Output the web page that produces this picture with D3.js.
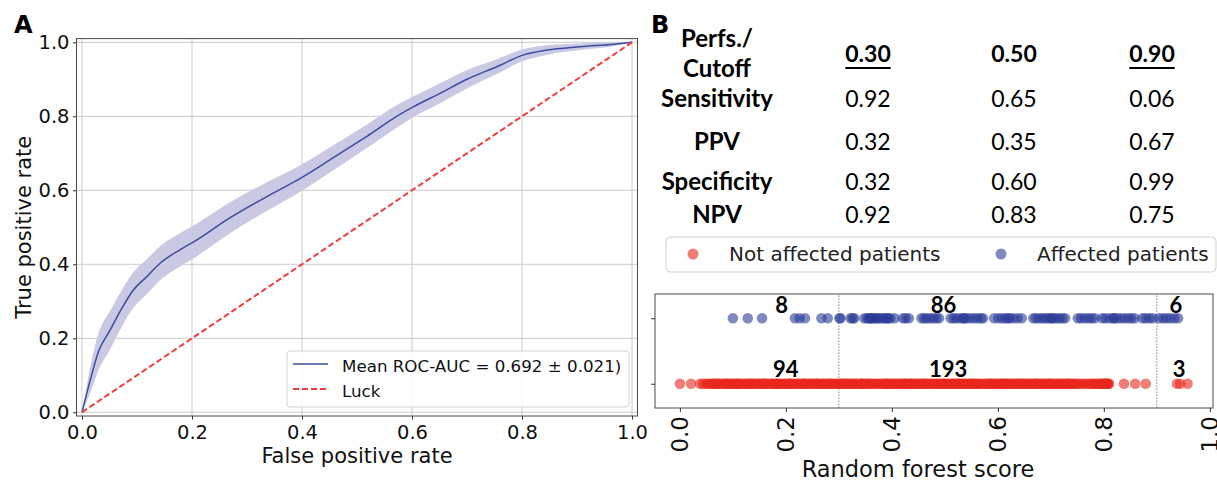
<!DOCTYPE html>
<html>
<head>
<meta charset="utf-8">
<script src="https://cdn.jsdelivr.net/npm/d3@7"></script>
<style>
  body { margin: 0; background: #fff; }
  svg { display: block; }
</style>
</head>
<body>
<script>
// ---- panel A: mean ROC curve ----
const fpr = [0, 0.015, 0.03, 0.051, 0.069, 0.093, 0.118, 0.142, 0.178, 0.209, 0.263, 0.336, 0.397, 0.457, 0.518, 0.578, 0.603, 0.651, 0.70, 0.754, 0.803, 0.845, 0.906, 0.967, 1.0]
const tprMean = [0, 0.087, 0.164, 0.222, 0.272, 0.33, 0.367, 0.403, 0.439, 0.466, 0.52, 0.583, 0.632, 0.688, 0.746, 0.805, 0.826, 0.862, 0.90, 0.934, 0.966, 0.979, 0.988, 0.995, 1.0]
const tprStd = [0, 0.035, 0.05, 0.052, 0.05, 0.048, 0.047, 0.046, 0.045, 0.044, 0.042, 0.039, 0.036, 0.034, 0.032, 0.03, 0.028, 0.027, 0.025, 0.02, 0.016, 0.013, 0.009, 0.006, 0]
const luckX = [0, 1]
const luckY = [0, 1]
const rocTicks = [0, 0.2, 0.4, 0.6, 0.8, 1.0]
const legendA = ["Mean ROC-AUC = 0.692 \u00b1 0.021)", "Luck"]

// ---- panel B: table ----
const cutoffs = ["0.30", "0.50", "0.90"]
const underlined = [true, false, true]
const rowLabels = ["Sensitivity", "PPV", "Specificity", "NPV"]
const sensitivity = ["0.92", "0.65", "0.06"]
const ppv = ["0.32", "0.35", "0.67"]
const specificity = ["0.32", "0.60", "0.99"]
const npv = ["0.92", "0.83", "0.75"]

// ---- panel B: strip plot of scores ----
const groups = ["Not affected patients", "Affected patients"]
const affectedScores = [
  0.100, 0.128, 0.155, 0.217, 0.226, 0.236, 0.267, 0.279,
  0.301, 0.303, 0.322, 0.326, 0.329, 0.348, 0.353, 0.357, 0.361, 0.364,
  0.368, 0.372, 0.375, 0.379, 0.384, 0.388, 0.393, 0.397, 0.405, 0.421,
  0.426, 0.432, 0.456, 0.461, 0.466, 0.472, 0.478, 0.484, 0.489, 0.511,
  0.517, 0.522, 0.529, 0.536, 0.541, 0.548, 0.555, 0.561, 0.568, 0.572,
  0.593, 0.601, 0.608, 0.614, 0.622, 0.629, 0.637, 0.645, 0.667, 0.672,
  0.678, 0.684, 0.689, 0.694, 0.699, 0.705, 0.711, 0.716, 0.722, 0.727,
  0.751, 0.757, 0.764, 0.771, 0.777, 0.783, 0.797, 0.803, 0.811, 0.818,
  0.825, 0.832, 0.839, 0.846, 0.852, 0.858, 0.873, 0.879, 0.886, 0.892,
  0.359, 0.391, 0.535, 0.619, 0.702, 0.819,
  0.904, 0.912, 0.918, 0.925, 0.933, 0.940
]
const notAffectedScores = [
  0.000, 0.021, 0.038, 0.043, 0.049, 0.052, 0.056, 0.060, 0.063, 0.067,
  0.070, 0.073, 0.075, 0.079, 0.083, 0.086, 0.088, 0.092, 0.095, 0.097,
  0.101, 0.104, 0.108, 0.111, 0.113, 0.117, 0.120, 0.124, 0.126, 0.129,
  0.133, 0.136, 0.139, 0.141, 0.145, 0.149, 0.151, 0.154, 0.158, 0.161,
  0.163, 0.167, 0.171, 0.173, 0.176, 0.180, 0.183, 0.185, 0.189, 0.192,
  0.196, 0.198, 0.201, 0.205, 0.208, 0.210, 0.214, 0.217, 0.221, 0.223,
  0.226, 0.230, 0.233, 0.236, 0.238, 0.242, 0.245, 0.248, 0.251, 0.255,
  0.258, 0.260, 0.264, 0.267, 0.270, 0.273, 0.276, 0.279, 0.283, 0.286,
  0.288, 0.292, 0.295, 0.298, 0.107, 0.132, 0.157, 0.182, 0.207, 0.232,
  0.257, 0.282, 0.064, 0.089,
  0.301, 0.304, 0.306, 0.309, 0.313, 0.315, 0.318, 0.321, 0.324, 0.327,
  0.330, 0.332, 0.335, 0.339, 0.342, 0.344, 0.347, 0.351, 0.354, 0.356,
  0.359, 0.362, 0.366, 0.369, 0.377, 0.380, 0.383, 0.386, 0.389, 0.392,
  0.395, 0.398, 0.401, 0.404, 0.407, 0.410, 0.413, 0.416, 0.419, 0.422,
  0.425, 0.428, 0.430, 0.433, 0.436, 0.439, 0.442, 0.445, 0.448, 0.451,
  0.454, 0.457, 0.459, 0.462, 0.465, 0.468, 0.471, 0.474, 0.477, 0.480,
  0.483, 0.486, 0.488, 0.491, 0.494, 0.497, 0.500, 0.503, 0.506, 0.509,
  0.512, 0.515, 0.517, 0.520, 0.523, 0.526, 0.529, 0.532, 0.535, 0.538,
  0.541, 0.544, 0.546, 0.549, 0.552, 0.555, 0.558, 0.561, 0.564, 0.567,
  0.572, 0.575, 0.578, 0.581, 0.584, 0.587, 0.590, 0.593, 0.596, 0.599,
  0.602, 0.605, 0.607, 0.610, 0.613, 0.616, 0.619, 0.622, 0.625, 0.628,
  0.631, 0.634, 0.636, 0.639, 0.642, 0.645, 0.648, 0.651, 0.654, 0.657,
  0.660, 0.663, 0.665, 0.668, 0.671, 0.674, 0.677, 0.680, 0.683, 0.686,
  0.689, 0.692, 0.694, 0.697, 0.700, 0.703, 0.706, 0.709, 0.712, 0.715,
  0.718, 0.721, 0.723, 0.726, 0.729, 0.732, 0.735, 0.738, 0.741, 0.744,
  0.747, 0.750, 0.754, 0.758, 0.763, 0.767, 0.772, 0.776, 0.781, 0.785,
  0.788, 0.791, 0.794, 0.797, 0.799, 0.802, 0.804, 0.806, 0.808, 0.810,
  0.838, 0.859, 0.879, 0.312, 0.343, 0.391, 0.437, 0.463, 0.498, 0.527,
  0.553, 0.588, 0.611, 0.646, 0.672, 0.698, 0.733, 0.779, 0.801, 0.807,
  0.372, 0.424, 0.617,
  0.938, 0.944, 0.958
]
const stripCutoffs = [0.3, 0.9]
const affectedCounts = ["8", "86", "6"]
const notAffectedCounts = ["94", "193", "3"]
const countLabelX = [0.192, 0.4975, 0.936]
const countLabelX2 = [0.2, 0.506, 0.942]
const stripTicks = [0, 0.2, 0.4, 0.6, 0.8, 1.0]

const mpl = "DejaVu Sans, sans-serif"
const cal = "Lato, Carlito, sans-serif"
const blue = "#3d4b9e"
const red = "#f03c3c"

const svg = d3.select("body").append("svg").attr("width", 1217).attr("height", 481)
svg.append("rect").attr("width", 1217).attr("height", 481).attr("fill", "#fff")

// ================= panel A =================
const xA = d3.scaleLinear().domain([-0.01, 1.01]).range([76.5, 637.5])
const yA = d3.scaleLinear().domain([-0.01, 1.01]).range([416, 38.6])

const gA = svg.append("g")
gA.selectAll(".gx").data(rocTicks).join("line")
  .attr("x1", d => xA(d)).attr("x2", d => xA(d))
  .attr("y1", yA.range()[0]).attr("y2", yA.range()[1])
  .attr("stroke", "#cbcbcb").attr("stroke-width", 1)
gA.selectAll(".gy").data(rocTicks).join("line")
  .attr("y1", d => yA(d)).attr("y2", d => yA(d))
  .attr("x1", xA.range()[0]).attr("x2", xA.range()[1])
  .attr("stroke", "#cbcbcb").attr("stroke-width", 1)

const idx = d3.range(fpr.length)
gA.append("path")
  .datum(idx)
  .attr("d", d3.area()
    .x(i => xA(fpr[i]))
    .y0(i => yA(Math.max(tprMean[i] - tprStd[i], 0)))
    .y1(i => yA(Math.min(tprMean[i] + tprStd[i], 1)))
    .curve(d3.curveMonotoneX))
  .attr("fill", "#c9c9e4")
gA.append("path")
  .datum(idx)
  .attr("d", d3.line().x(i => xA(fpr[i])).y(i => yA(tprMean[i])).curve(d3.curveMonotoneX))
  .attr("fill", "none").attr("stroke", blue).attr("stroke-width", 1.5)
gA.append("path")
  .datum(d3.range(luckX.length))
  .attr("d", d3.line().x(i => xA(luckX[i])).y(i => yA(luckY[i])))
  .attr("fill", "none").attr("stroke", red).attr("stroke-width", 2)
  .attr("stroke-dasharray", "6,3")

gA.append("rect")
  .attr("x", xA.range()[0]).attr("y", yA.range()[1])
  .attr("width", xA.range()[1] - xA.range()[0])
  .attr("height", yA.range()[0] - yA.range()[1])
  .attr("fill", "none").attr("stroke", "#4a4a4a").attr("stroke-width", 1)

const xAxisA = gA.append("g")
  .attr("transform", `translate(0,${yA.range()[0]})`)
  .call(d3.axisBottom(xA).tickValues(rocTicks).tickFormat(d3.format(".1f")).tickSize(3.5).tickPadding(5.5))
const yAxisA = gA.append("g")
  .attr("transform", `translate(${xA.range()[0]},0)`)
  .call(d3.axisLeft(yA).tickValues(rocTicks).tickFormat(d3.format(".1f")).tickSize(3.5).tickPadding(3.5))
for (const ax of [xAxisA, yAxisA]) {
  ax.select(".domain").remove()
  ax.selectAll(".tick line").attr("stroke", "#333")
  ax.selectAll(".tick text").attr("fill", "#111").style("font-family", mpl).style("font-size", "19.5px")
}

gA.append("text").text("False positive rate")
  .attr("x", xA(0.5)).attr("y", 463).attr("text-anchor", "middle")
  .style("font-family", mpl).style("font-size", "21px").attr("fill", "#111")
gA.append("text").text("True positive rate")
  .attr("transform", `translate(31,${yA(0.5)}) rotate(-90)`).attr("text-anchor", "middle")
  .style("font-family", mpl).style("font-size", "21px").attr("fill", "#111")
gA.append("text").text("A").attr("x", 14).attr("y", 33)
  .style("font-family", mpl).style("font-size", "24px").style("font-weight", "bold")

// legend A
const lgA = gA.append("g")
lgA.append("rect").attr("x", 287).attr("y", 351).attr("width", 342).attr("height", 56).attr("rx", 3)
  .attr("fill", "#fff").attr("fill-opacity", 0.85).attr("stroke", "#d0d0d0")
lgA.append("line").attr("x1", 293).attr("x2", 328).attr("y1", 364).attr("y2", 364)
  .attr("stroke", blue).attr("stroke-width", 1.5)
lgA.append("line").attr("x1", 293).attr("x2", 328).attr("y1", 389).attr("y2", 389)
  .attr("stroke", red).attr("stroke-width", 2).attr("stroke-dasharray", "6,3")
lgA.selectAll("text").data(legendA).join("text")
  .text(d => d).attr("x", 342).attr("y", (d, i) => 372 + i * 24.5)
  .style("font-family", mpl).style("font-size", "16.7px").attr("fill", "#111")

// ================= panel B: table =================
const gT = svg.append("g")
gT.append("text").text("B").attr("x", 651).attr("y", 33)
  .style("font-family", mpl).style("font-size", "24px").style("font-weight", "bold")
const colX = d3.scaleOrdinal().domain(cutoffs).range([868, 1014, 1152])
const labelX = 717
gT.append("text").text("Perfs./").attr("x", labelX).attr("y", 47).attr("text-anchor", "middle")
  .style("font-family", cal).style("font-size", "24px").style("font-weight", "bold")
gT.append("text").text("Cutoff").attr("x", labelX).attr("y", 77).attr("text-anchor", "middle")
  .style("font-family", cal).style("font-size", "24px").style("font-weight", "bold")
cutoffs.forEach((c, j) => {
  const t = gT.append("text").text(c).attr("x", colX(c)).attr("y", 62).attr("text-anchor", "middle")
    .style("font-family", cal).style("font-size", "23px").style("font-weight", "bold")
  if (underlined[j]) {
    const w = t.node().getComputedTextLength()
    gT.append("line").attr("x1", colX(c) - w / 2).attr("x2", colX(c) + w / 2)
      .attr("y1", 68).attr("y2", 68).attr("stroke", "#000").attr("stroke-width", 1.8)
  }
})
const rowY = [107, 150, 190, 223]
const rows = [sensitivity, ppv, specificity, npv]
rowLabels.forEach((r, i) => {
  gT.append("text").text(r).attr("x", labelX).attr("y", rowY[i]).attr("text-anchor", "middle")
    .style("font-family", cal).style("font-size", "24px").style("font-weight", "bold")
  rows[i].forEach((v, j) => {
    gT.append("text").text(v).attr("x", colX(cutoffs[j])).attr("y", rowY[i]).attr("text-anchor", "middle")
      .style("font-family", cal).style("font-size", "23px")
  })
})

// legend B
const lgB = svg.append("g")
lgB.append("rect").attr("x", 666).attr("y", 237).attr("width", 550).attr("height", 35).attr("rx", 4)
  .attr("fill", "#fff").attr("stroke", "#d0d0d0")
const legB = [{name: groups[0], c: "#e8261c", cx: 693, tx: 729}, {name: groups[1], c: "#2b3a96", cx: 1001, tx: 1037}]
legB.forEach(d => {
  lgB.append("circle").attr("cx", d.cx).attr("cy", 254).attr("r", 5.5).attr("fill", d.c).attr("fill-opacity", 0.6)
  lgB.append("text").text(d.name).attr("x", d.tx).attr("y", 261)
    .style("font-family", mpl).style("font-size", "20px").attr("fill", "#222")
})

// ================= panel B: strip plot =================
const xS = d3.scaleLinear().domain([-0.047, 1.006]).range([655, 1213])
const yS = d3.scaleLinear().domain([-0.37, 1.37]).range([408, 294])
const gS = svg.append("g")

gS.selectAll(".cut").data(stripCutoffs).join("line")
  .attr("x1", d => xS(d)).attr("x2", d => xS(d))
  .attr("y1", yS.range()[0]).attr("y2", yS.range()[1])
  .attr("stroke", "#666").attr("stroke-width", 0.8).attr("stroke-dasharray", "1.5,1.5")

gS.selectAll(".na").data(notAffectedScores).join("circle")
  .attr("cx", d => xS(d)).attr("cy", yS(0)).attr("r", 5.3)
  .attr("fill", "#e8261c").attr("fill-opacity", 0.6)
gS.selectAll(".af").data(affectedScores).join("circle")
  .attr("cx", d => xS(d)).attr("cy", yS(1)).attr("r", 5.3)
  .attr("fill", "#2b3a96").attr("fill-opacity", 0.6)

gS.selectAll(".ca").data(affectedCounts).join("text")
  .text(d => d).attr("x", (d, i) => xS(countLabelX[i])).attr("y", 313).attr("text-anchor", "middle")
  .style("font-family", cal).style("font-size", "22px").style("font-weight", "bold")
gS.selectAll(".cn").data(notAffectedCounts).join("text")
  .text(d => d).attr("x", (d, i) => xS(countLabelX2[i])).attr("y", 377).attr("text-anchor", "middle")
  .style("font-family", cal).style("font-size", "22px").style("font-weight", "bold")

gS.append("rect")
  .attr("x", xS.range()[0]).attr("y", yS.range()[1])
  .attr("width", xS.range()[1] - xS.range()[0])
  .attr("height", yS.range()[0] - yS.range()[1])
  .attr("fill", "none").attr("stroke", "#4a4a4a").attr("stroke-width", 1)

const xAxisS = gS.append("g")
  .attr("transform", `translate(0,${yS.range()[0]})`)
  .call(d3.axisBottom(xS).tickValues(stripTicks).tickFormat(d3.format(".1f")).tickSize(4))
xAxisS.select(".domain").remove()
xAxisS.selectAll(".tick line").attr("stroke", "#333")
xAxisS.selectAll(".tick text")
  .attr("transform", "rotate(-90)").attr("x", -8).attr("y", 0).attr("dy", "0.35em")
  .attr("text-anchor", "end").attr("fill", "#111")
  .style("font-family", mpl).style("font-size", "23px")
const yAxisS = gS.append("g")
  .attr("transform", `translate(${xS.range()[0]},0)`)
  .call(d3.axisLeft(yS).tickValues([0, 1]).tickFormat("").tickSize(4))
yAxisS.select(".domain").remove()
yAxisS.selectAll(".tick line").attr("stroke", "#333")

gS.append("text").text("Random forest score")
  .attr("x", 918).attr("y", 477).attr("text-anchor", "middle")
  .style("font-family", mpl).style("font-size", "22.5px").attr("fill", "#111")
</script>
</body>
</html>
